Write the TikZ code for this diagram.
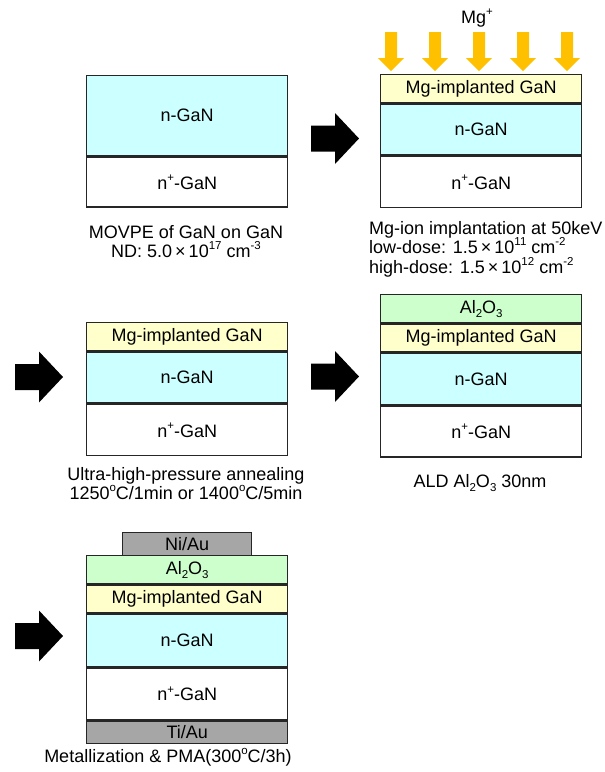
\documentclass[tikz,border=0pt]{standalone}
\usepackage{fontspec}
\setmainfont{Liberation Sans}
\definecolor{ngan}{HTML}{CCFFFF}
\definecolor{mgimp}{HTML}{FFFFCC}
\definecolor{oxide}{HTML}{CCFFCC}
\definecolor{metal}{HTML}{A6A6A6}
\definecolor{ion}{HTML}{FFC000}
\definecolor{edge}{HTML}{262626}
% raised / lowered small text for exponents, charges and indices
\newcommand{\upix}[1]{\raisebox{0.42em}{\fontsize{11.5}{12}\selectfont #1}}
\newcommand{\dnix}[1]{\raisebox{-0.22em}{\fontsize{11.5}{12}\selectfont #1}}
\begin{document}
\begin{tikzpicture}[x=1pt, y=-1pt, font=\fontsize{18}{20}\selectfont,
  layer/.style={draw=edge, line width=1.4pt, inner sep=0pt,
    minimum width=201pt, anchor=north west},
  caption/.style={anchor=base, inner sep=0pt},
  blockarrow/.pic={\fill[black] (0,-13) -- (24,-13) -- (24,-25.5) -- (48,0)
    -- (24,25.5) -- (24,13) -- (0,13) -- cycle;},
  ionarrow/.pic={\fill[ion] (-6,0) -- (6,0) -- (6,26) -- (13,26) -- (0,39)
    -- (-13,26) -- (-6,26) -- cycle;},
]
\useasboundingbox (0,0) rectangle (605,772);

% step 1: epitaxial stack
\node[layer, fill=ngan, minimum height=80pt] (a-n) at (86,75) {n-GaN};
\node[layer, fill=white, minimum height=50pt] (a-np) at (a-n.south west) {n\upix{+}-GaN};
\node[caption] (a-cap1) at (186,238.5) {MOVPE of GaN on GaN};
\node[caption] (a-cap2) at (186,257.5) {ND: 5.0\,×\,10\upix{17} cm\upix{-3}};

% step 2: Mg ion implantation
\node[caption] (ion-lbl) at (477,23.5) {Mg\upix{+}};
\foreach \x in {391,435,479,523,567} \pic at (\x,32) {ionarrow};
\node[layer, fill=mgimp, minimum height=28pt] (b-mg) at (380,74) {Mg-implanted GaN};
\node[layer, fill=ngan, minimum height=51pt] (b-n) at (b-mg.south west) {n-GaN};
\node[layer, fill=white, minimum height=51pt] (b-np) at (b-n.south west) {n\upix{+}-GaN};
\node[caption, anchor=base west] (b-cap1) at (369,234) {Mg-ion implantation at 50keV};
\node[caption, anchor=base west] (b-cap2) at (369,253.5) {low-dose: 1.5\,×\,10\upix{11} cm\upix{-2}};
\node[caption, anchor=base west] (b-cap3) at (369,273) {high-dose: 1.5\,×\,10\upix{12} cm\upix{-2}};

% step 3: annealing
\node[layer, fill=mgimp, minimum height=28pt] (c-mg) at (86,322) {Mg-implanted GaN};
\node[layer, fill=ngan, minimum height=51pt] (c-n) at (c-mg.south west) {n-GaN};
\node[layer, fill=white, minimum height=51pt] (c-np) at (c-n.south west) {n\upix{+}-GaN};
\node[caption] (c-cap1) at (186,480.5) {Ultra-high-pressure annealing};
\node[caption] (c-cap2) at (186,499.5) {1250\upix{o}C/1min or 1400\upix{o}C/5min};

% step 4: oxide deposition
\node[layer, fill=oxide, minimum height=28pt] (d-ox) at (380,294) {Al\dnix{2}O\dnix{3}};
\node[layer, fill=mgimp, minimum height=28pt] (d-mg) at (d-ox.south west) {Mg-implanted GaN};
\node[layer, fill=ngan, minimum height=51pt] (d-n) at (d-mg.south west) {n-GaN};
\node[layer, fill=white, minimum height=51pt] (d-np) at (d-n.south west) {n\upix{+}-GaN};
\node[caption] (d-cap) at (480,487.5) {ALD Al\dnix{2}O\dnix{3} 30nm};

% step 5: metallization
\node[layer, fill=metal, minimum width=129pt, minimum height=23pt] (e-ni) at (122,532) {Ni/Au};
\node[layer, fill=oxide, minimum height=28pt] (e-ox) at (86,555) {Al\dnix{2}O\dnix{3}};
\node[layer, fill=mgimp, minimum height=28pt] (e-mg) at (e-ox.south west) {Mg-implanted GaN};
\node[layer, fill=ngan, minimum height=52pt] (e-n) at (e-mg.south west) {n-GaN};
\node[layer, fill=white, minimum height=52pt] (e-np) at (e-n.south west) {n\upix{+}-GaN};
\node[layer, fill=metal, minimum height=22pt] (e-ti) at (e-np.south west) {Ti/Au};
\node[caption] (e-cap) at (168,762.5) {Metallization \& PMA(300\upix{o}C/3h)};

% process-flow arrows
\pic at (311,138.5) {blockarrow};
\pic at (15,377) {blockarrow};
\pic at (311,376.5) {blockarrow};
\pic at (15,636) {blockarrow};
\end{tikzpicture}
\end{document}
